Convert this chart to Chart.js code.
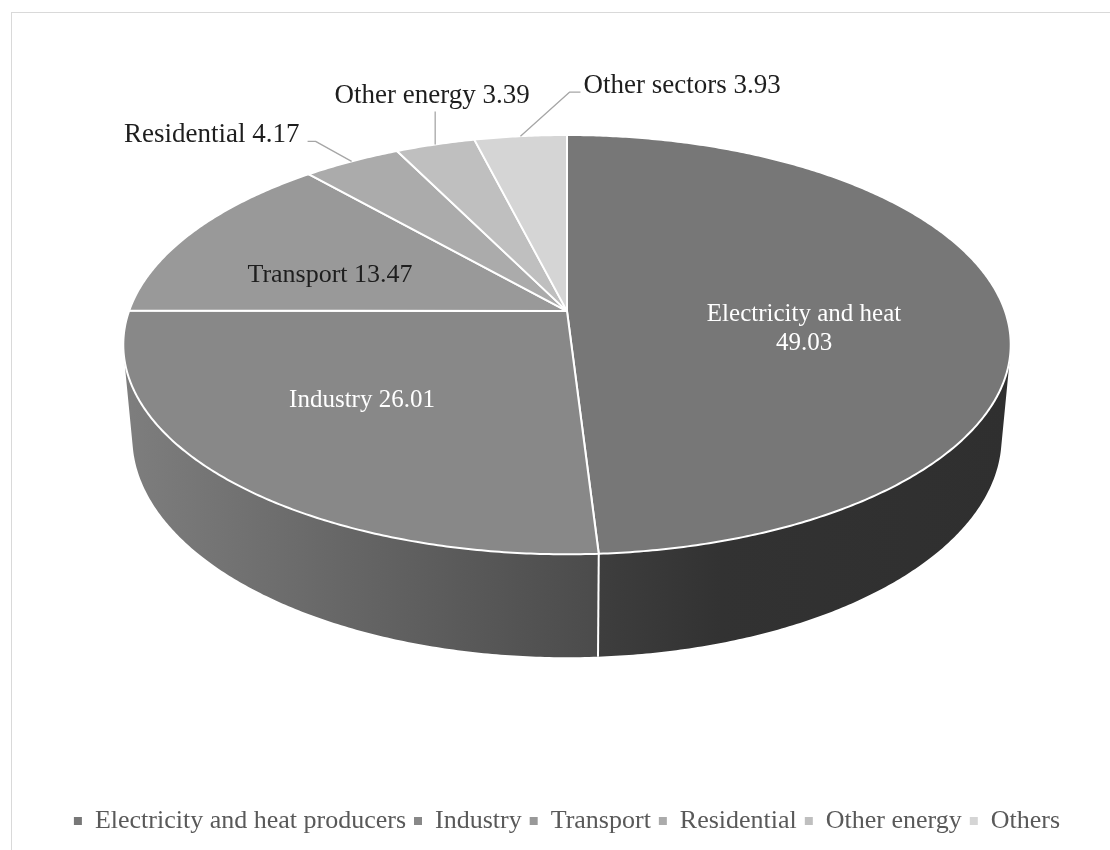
<!DOCTYPE html>
<html>
<head>
<meta charset="utf-8">
<script src="https://cdn.jsdelivr.net/npm/chart.js@4.4.1/dist/chart.umd.min.js"></script>
<style>
    html, body { margin: 0; padding: 0; background: #fff; overflow: hidden; }
    #marco { position: absolute; left: 11px; top: 12px; width: 1110px; height: 850px; border: 1px solid #d9d9d9; }
    #grafico-emisiones { display: block; }
</style>
</head>
<body>
<div id="marco"><canvas id="grafico-emisiones" width="1110" height="837"></canvas></div>
<script>
// Datos: emisiones por sector (%)
const sectores = ['Electricity and heat producers', 'Industry', 'Transport', 'Residential', 'Other energy', 'Others'];
const etiquetas = ['Electricity and heat', 'Industry', 'Transport', 'Residential', 'Other energy', 'Other sectors'];
const porcentajes = [49.03, 26.01, 13.47, 4.17, 3.39, 3.93];

// Colores de la cara superior y de la pared lateral (claro -> oscuro)
const coloresCara = ['#777777', '#888888', '#999999', '#ababab', '#bfbfbf', '#d5d5d5'];
const coloresPared = [
    ['#3e3e3e', '#2f2f2f'],
    ['#7e7e7e', '#4b4b4b'],
    ['#6e6e6e', '#5a5a5a'],
    ['#7e7e7e', '#6a6a6a'],
    ['#8e8e8e', '#7a7a7a'],
    ['#a0a0a0', '#8c8c8c']
];

const FUENTE = "'Liberation Serif', 'Times New Roman', serif";

// Cámara del pastel 3D (radio en px, resto en unidades del radio)
const VISTA = {
    radio: 438,
    inclinacion: 27.8 * Math.PI / 180,
    distancia: 5.53,
    grosor: 0.2414
};

// Etiquetas dentro del sector: desplazamiento desde el centro proyectado
const etiquetasDentro = {
    0: { dx: 237, dy: 10, color: '#ffffff', size: 25, dosLineas: true },
    1: { dx: -205, dy: 96, color: '#ffffff', size: 25 },
    2: { dx: -237, dy: -29, color: '#1e1e1e', size: 26 }
};

// Etiquetas fuera con línea guía: codo y tramo final relativos al borde
const etiquetasFuera = {
    3: { codo: [-36, -20], tramo: -8, align: 'right', tx: -8, ty: 1 },
    4: { codo: [0, -33], tramo: 0, align: 'center', tx: -3, ty: -8 },
    5: { codo: [49, -44], tramo: 11, align: 'left', tx: 3, ty: 1 }
};

function crearProyeccion(chart) {
    const { left, right, top } = chart.chartArea;
    const a = VISTA.inclinacion;
    const d = VISTA.distancia;
    const f = VISTA.radio * d;
    const cx = (left + right) / 2;
    const cy = top + f * Math.sin(a) / (d + Math.cos(a));

    // theta: ángulo horario desde las 12; z = 0 cara superior, z = -grosor base
    const proyectar = (theta, r = 1, z = 0) => {
        const X = r * Math.sin(theta);
        const Y = r * Math.cos(theta);
        const prof = d + Y * Math.cos(a) - z * Math.sin(a);
        return {
            x: cx + f * X / prof,
            y: cy - f * (Y * Math.sin(a) + z * Math.cos(a)) / prof
        };
    };

    // Parte visible de la pared cilíndrica
    const limite = Math.acos(-1 / (d * Math.cos(a)));
    return { cx, cy, proyectar, visibleDesde: limite, visibleHasta: 2 * Math.PI - limite };
}

function puntosArco(proyectar, t0, t1, z) {
    const pasos = Math.max(2, Math.ceil(Math.abs(t1 - t0) / (Math.PI / 360)));
    const puntos = [];
    for (let i = 0; i <= pasos; i++) {
        puntos.push(proyectar(t0 + (t1 - t0) * i / pasos, 1, z));
    }
    return puntos;
}

const pastel3D = {
    id: 'pastel3D',
    beforeDatasetsDraw(chart) {
        const ctx = chart.ctx;
        const arcos = chart.getDatasetMeta(0).data;
        const { cx, cy, proyectar, visibleDesde, visibleHasta } = crearProyeccion(chart);
        const h = -VISTA.grosor;

        // Ángulos de Chart.js (empiezan en -PI/2) pasados a horario desde las 12
        const sectoresAng = arcos.map(arc => ({
            t0: arc.startAngle + Math.PI / 2,
            t1: arc.endAngle + Math.PI / 2
        }));

        ctx.save();

        // Paredes laterales
        sectoresAng.forEach((s, i) => {
            const a0 = Math.max(s.t0, visibleDesde);
            const a1 = Math.min(s.t1, visibleHasta);
            if (a1 <= a0) return;
            const arriba = puntosArco(proyectar, a0, a1, 0);
            const abajo = puntosArco(proyectar, a1, a0, h);
            const todos = arriba.concat(abajo);
            const xs = todos.map(p => p.x);
            const xMin = Math.min(...xs), xMax = Math.max(...xs);
            const grad = ctx.createLinearGradient(xMin, 0, xMax, 0);
            const [claro, oscuro] = coloresPared[i];
            if (i === 0) {
                grad.addColorStop(0, claro);
                grad.addColorStop(0.3, '#323232');
                grad.addColorStop(1, oscuro);
            } else {
                grad.addColorStop(0, claro);
                grad.addColorStop(1, oscuro);
            }
            ctx.beginPath();
            todos.forEach((p, k) => (k === 0 ? ctx.moveTo(p.x, p.y) : ctx.lineTo(p.x, p.y)));
            ctx.closePath();
            ctx.fillStyle = grad;
            ctx.fill();
        });

        // Costuras blancas entre paredes
        ctx.strokeStyle = '#ffffff';
        ctx.lineWidth = 2;
        sectoresAng.forEach(s => {
            if (s.t0 > visibleDesde && s.t0 < visibleHasta) {
                const p = proyectar(s.t0, 1, 0);
                const q = proyectar(s.t0, 1, h);
                ctx.beginPath();
                ctx.moveTo(p.x, p.y);
                ctx.lineTo(q.x, q.y);
                ctx.stroke();
            }
        });

        // Cara superior
        ctx.lineJoin = 'round';
        sectoresAng.forEach((s, i) => {
            const borde = puntosArco(proyectar, s.t0, s.t1, 0);
            ctx.beginPath();
            ctx.moveTo(cx, cy);
            borde.forEach(p => ctx.lineTo(p.x, p.y));
            ctx.closePath();
            ctx.fillStyle = coloresCara[i];
            ctx.fill();
            ctx.strokeStyle = '#ffffff';
            ctx.lineWidth = 2;
            ctx.stroke();
        });

        // Etiquetas de datos
        ctx.textBaseline = 'alphabetic';
        sectoresAng.forEach((s, i) => {
            const valor = porcentajes[i].toFixed(2);
            const dentro = etiquetasDentro[i];
            if (dentro) {
                ctx.fillStyle = dentro.color;
                ctx.font = `${dentro.size}px ${FUENTE}`;
                ctx.textAlign = 'center';
                const x = cx + dentro.dx;
                const y = cy + dentro.dy;
                if (dentro.dosLineas) {
                    ctx.fillText(etiquetas[i], x, y);
                    ctx.fillText(valor, x, y + 29);
                } else {
                    ctx.fillText(`${etiquetas[i]} ${valor}`, x, y);
                }
                return;
            }
            const fuera = etiquetasFuera[i];
            if (!fuera) return;
            const borde = proyectar((s.t0 + s.t1) / 2, 1, 0);
            const codo = { x: borde.x + fuera.codo[0], y: borde.y + fuera.codo[1] };
            const fin = { x: codo.x + fuera.tramo, y: codo.y };
            ctx.strokeStyle = '#a6a6a6';
            ctx.lineWidth = 1.3;
            ctx.beginPath();
            ctx.moveTo(borde.x, borde.y);
            ctx.lineTo(codo.x, codo.y);
            ctx.lineTo(fin.x, fin.y);
            ctx.stroke();
            ctx.fillStyle = '#1e1e1e';
            ctx.font = `27px ${FUENTE}`;
            ctx.textAlign = fuera.align;
            ctx.fillText(`${etiquetas[i]} ${valor}`, fin.x + fuera.tx, fin.y + fuera.ty);
        });

        ctx.restore();
        // No dibujar los arcos planos por defecto
        return false;
    }
};

Chart.defaults.font.family = FUENTE;

const grafico = new Chart(document.getElementById('grafico-emisiones'), {
    type: 'pie',
    data: {
        labels: sectores,
        datasets: [{
            data: porcentajes,
            backgroundColor: coloresCara,
            borderWidth: 0
        }]
    },
    options: {
        responsive: false,
        animation: false,
        layout: { padding: { top: 122, bottom: 6 } },
        plugins: {
            legend: {
                position: 'bottom',
                labels: {
                    boxWidth: 8,
                    boxHeight: 8,
                    padding: 8,
                    color: '#595959',
                    font: { size: 26, family: FUENTE }
                }
            },
            tooltip: { enabled: false }
        }
    },
    plugins: [pastel3D]
});
</script>
</body>
</html>
